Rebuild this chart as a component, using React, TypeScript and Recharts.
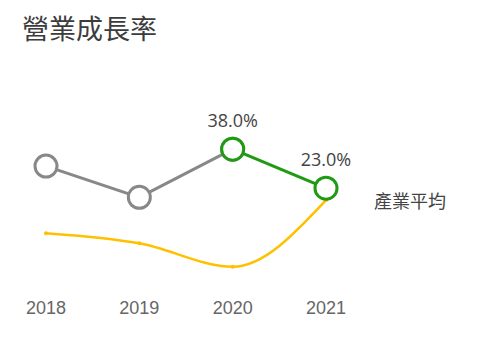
import { LineChart, Line, XAxis, YAxis, LabelList } from "recharts";

const years = ["2018", "2019", "2020", "2021"];
const pastGrowth = [31.5, 19.5, 38.0, null];
const recentGrowth = [null, null, 38.0, 23.0];
const industryAvg = [5.7, 1.8, -7.2, 18.4];
const industryLabel = "產業平均";

const data = years.map((year, i) => ({
  year,
  past: pastGrowth[i],
  recent: recentGrowth[i],
  industry: industryAvg[i],
}));

const cjk = '"Noto Sans CJK TC", "Noto Sans CJK SC", sans-serif';

const IndustryTag = (props: any) => {
  const { x, y, index } = props;
  if (index !== years.length - 1) return null;
  return (
    <text
      x={x + 48}
      y={y}
      dominantBaseline="central"
      textAnchor="start"
      fill="#444"
      fontSize={18}
      fontFamily={cjk}
    >
      {industryLabel}
    </text>
  );
};

export default function App() {
  return (
    <div style={{ position: "absolute", left: 0, top: 0, width: 499, height: 362, background: "#fff" }}>
      <div
        style={{
          position: "absolute",
          left: 22,
          top: 10,
          fontSize: 27,
          color: "#3c3c3c",
          fontFamily: cjk,
          lineHeight: "36px",
        }}
      >
        營業成長率
      </div>
      <LineChart
        width={499}
        height={362}
        data={data}
        margin={{ top: 118, right: 173, bottom: 32, left: 46 }}
      >
        <XAxis
          dataKey="year"
          axisLine={false}
          tickLine={false}
          tickSize={0}
          tickMargin={1}
          height={30}
          tick={{ fill: "#666", fontSize: 18, fontFamily: '"Liberation Sans", Arial, sans-serif' }}
        />
        <YAxis hide domain={[-20, 50]} width={0} />
        <Line
          dataKey="industry"
          type="monotone"
          stroke="#FFC000"
          strokeWidth={2.5}
          dot={{ r: 2, fill: "#FFC000", stroke: "#FFC000", strokeWidth: 0 }}
          isAnimationActive={false}
        >
          <LabelList dataKey="industry" content={<IndustryTag />} />
        </Line>
        <Line
          dataKey="past"
          type="linear"
          stroke="#888"
          strokeWidth={3}
          dot={{ r: 11, fill: "#fff", stroke: "#888", strokeWidth: 3 }}
          isAnimationActive={false}
        />
        <Line
          dataKey="recent"
          type="linear"
          stroke="#1f9a12"
          strokeWidth={3}
          dot={{ r: 11, fill: "#fff", stroke: "#1f9a12", strokeWidth: 3 }}
          isAnimationActive={false}
        >
          <LabelList
            dataKey="recent"
            position="top"
            offset={22}
            fill="#444"
            fontSize={18}
            fontFamily='"Open Sans", sans-serif'
            formatter={(v: any) => (v == null ? "" : `${Number(v).toFixed(1)}%`)}
          />
        </Line>
      </LineChart>
    </div>
  );
}
